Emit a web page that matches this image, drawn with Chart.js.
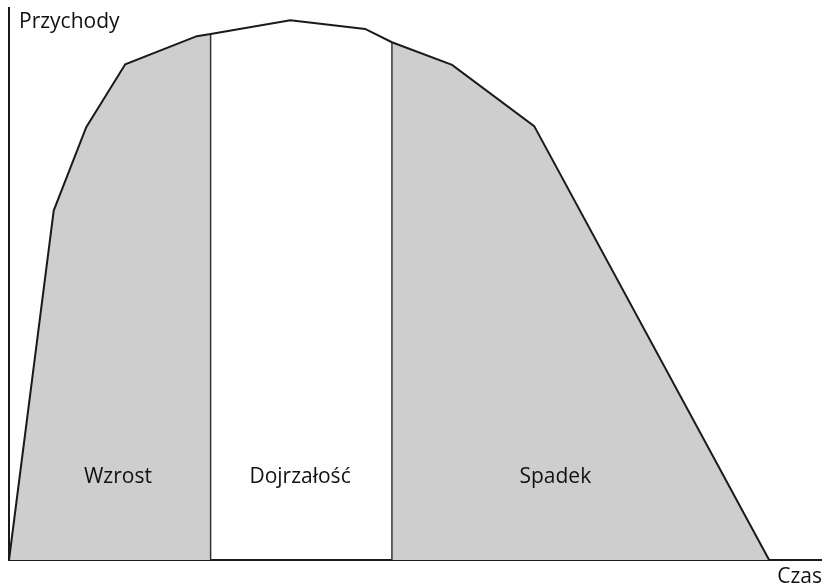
<!DOCTYPE html>
<html>
<head>
<meta charset="utf-8">
<script src="https://cdn.jsdelivr.net/npm/chart.js@4.4.0/dist/chart.umd.min.js"></script>
<style>
  html, body { margin: 0; padding: 0; background: #fff; }
  #wrap { width: 822px; height: 585px; }
</style>
</head>
<body>
<div id="wrap"><canvas id="cykl"></canvas></div>
<script>
// krzywa przychodów w czasie (czas 0-100, przychody 0-100)
const czas = [0, 5.5, 9.5, 14.3, 23.1, 24.8, 34.6, 43.8, 47.1, 54.5, 64.6, 93.5];
const przychody = [0, 63.3, 78.4, 89.8, 94.9, 95.3, 97.8, 96.2, 93.8, 89.7, 78.6, 0];

// granice faz
const granice = [24.8, 47.1];
const fazy = ["Wzrost", "Dojrzałość", "Spadek"];
const fazyX = [13.4, 35.8, 67.2];
const fazyY = 15;

const punkty = czas.map((x, i) => ({ x: x, y: przychody[i] }));
const wzrost = punkty.filter(p => p.x <= granice[0]);
const spadek = punkty.filter(p => p.x >= granice[1]);
const linieGranic = granice.map(g => {
  const p = punkty.find(q => q.x === g);
  return [{ x: g, y: 0 }, { x: g, y: p.y }];
});

const FONT = "'Open Sans', sans-serif";

const napisy = {
  id: "napisy",
  afterDraw(chart) {
    const { ctx, chartArea, scales } = chart;
    ctx.save();
    ctx.fillStyle = "#111";
    ctx.font = "21px " + FONT;
    ctx.textBaseline = "alphabetic";
    ctx.textAlign = "left";
    ctx.fillText("Przychody", chartArea.left + 10, 28);
    ctx.textAlign = "right";
    ctx.fillText("Czas", chartArea.right, 583);
    ctx.textAlign = "center";
    ctx.textBaseline = "middle";
    fazy.forEach((t, i) => {
      ctx.fillText(t, scales.x.getPixelForValue(fazyX[i]), scales.y.getPixelForValue(fazyY));
    });
    ctx.restore();
  }
};

new Chart(document.getElementById("cykl"), {
  type: "line",
  data: {
    datasets: [
      {
        data: punkty,
        borderColor: "#1a1a1a",
        borderWidth: 2,
        fill: false,
        pointRadius: 0,
        tension: 0,
        order: 0,
        clip: false,
      },
      ...linieGranic.map(l => ({
        data: l,
        borderColor: "#333",
        borderWidth: 1.5,
        fill: false,
        pointRadius: 0,
        order: 1,
      })),
      {
        data: wzrost,
        borderWidth: 0,
        backgroundColor: "#cecece",
        fill: "origin",
        pointRadius: 0,
        order: 3,
      },
      {
        data: spadek,
        borderWidth: 0,
        backgroundColor: "#cecece",
        fill: "origin",
        pointRadius: 0,
        order: 3,
      },
    ],
  },
  options: {
    responsive: true,
    maintainAspectRatio: false,
    animation: false,
    layout: { padding: { left: 1, top: 8, right: 0, bottom: 17 } },
    plugins: { legend: { display: false }, tooltip: { enabled: false } },
    scales: {
      x: {
        type: "linear",
        min: 0,
        max: 100,
        grid: { display: false },
        ticks: { display: false },
        border: { display: true, color: "#1a1a1a", width: 2 },
      },
      y: {
        min: 0,
        max: 100,
        grid: { display: false },
        ticks: { display: false },
        border: { display: true, color: "#1a1a1a", width: 2 },
      },
    },
  },
  plugins: [napisy],
});
</script>
</body>
</html>
